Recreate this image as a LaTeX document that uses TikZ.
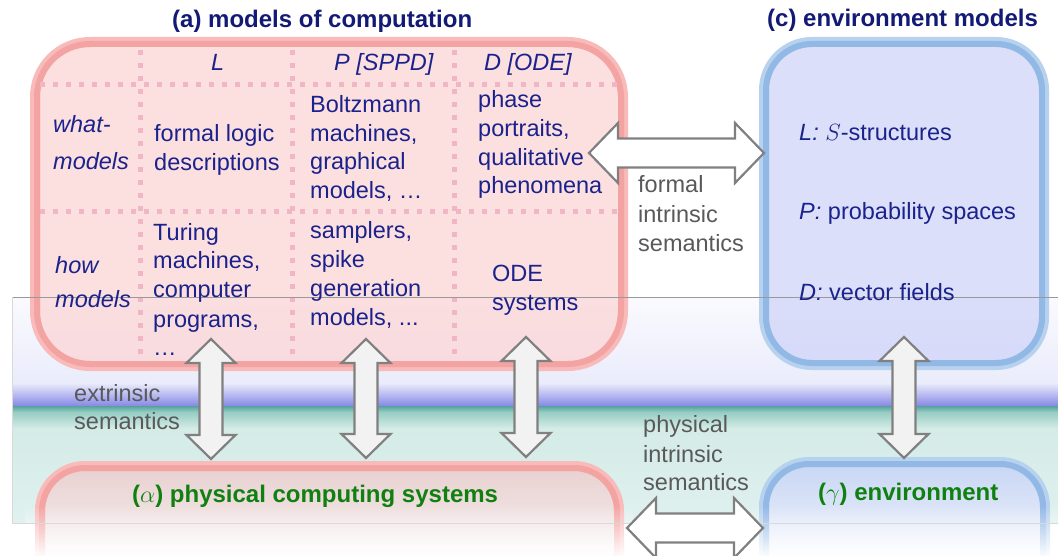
\RequirePackage{fix-cm}
\documentclass[tikz,border=0pt]{standalone}
\usepackage{fontspec}
\setmainfont{Liberation Sans}
\usetikzlibrary{fadings}
\definecolor{navy}{RGB}{26,34,140}
\definecolor{titlenavy}{RGB}{18,26,118}
\definecolor{greytxt}{RGB}{89,89,89}
\definecolor{greentxt}{RGB}{16,128,16}
\definecolor{pinkfill}{RGB}{252,212,212}
\definecolor{pinkedgeA}{RGB}{249,186,186}
\definecolor{pinkedgeB}{RGB}{244,163,163}
\definecolor{dotpink}{RGB}{240,182,198}
\definecolor{bluefill}{RGB}{206,211,248}
\definecolor{blueedgeA}{RGB}{182,210,238}
\definecolor{blueedgeB}{RGB}{146,184,230}
\definecolor{arrowline}{RGB}{128,128,128}
\definecolor{arrowfillV}{RGB}{242,242,242}
\tikzfading[name=fadedown, top color=transparent!100, bottom color=transparent!0]
\newcommand\vblockarrow[3]{% cx, ytop, ybottom
  \draw[blk, fill=arrowfillV] (#1,#2) -- (#1+24.5,#2+24) -- (#1+11.5,#2+24) -- (#1+11.5,#3-24) -- (#1+24.5,#3-24) -- (#1,#3) -- (#1-24.5,#3-24) -- (#1-11.5,#3-24) -- (#1-11.5,#2+24) -- (#1-24.5,#2+24) -- cycle;}
\newcommand\hblockarrow[3]{% xleft, xright, cy
  \draw[blk, fill=white] (#1,#3) -- (#1+29,#3-30) -- (#1+29,#3-14.5) -- (#2-29,#3-14.5) -- (#2-29,#3-30) -- (#2,#3) -- (#2-29,#3+30) -- (#2-29,#3+14.5) -- (#1+29,#3+14.5) -- (#1+29,#3+30) -- cycle;}
\begin{document}
\begin{tikzpicture}[x=1pt,y=-1pt,
  txt/.style={font=\fontsize{23.5}{28}\selectfont, text=navy, inner sep=0, anchor=base west},
  itx/.style={txt, font=\fontsize{23.5}{28}\selectfont\itshape},
  gtx/.style={txt, text=greytxt},
  ttl/.style={font=\fontsize{24}{28}\selectfont\bfseries, text=titlenavy, inner sep=0, anchor=base west},
  gttl/.style={ttl, text=greentxt},
  grid/.style={dotpink, line width=5, dash pattern=on 5 off 8},
  blk/.style={draw=arrowline, line width=2.2, line join=miter}]
\useasboundingbox (0,0) rectangle (1058,556);
\clip (0,0) rectangle (1058,556);
\fill[white] (0,0) rectangle (1058,556);
% background band
\fill[top color={rgb,255:red,250;green,250;blue,254}, bottom color={rgb,255:red,234;green,236;blue,251}] (12,297) rectangle (1058,383);
\fill[top color={rgb,255:red,234;green,236;blue,251}, bottom color={rgb,255:red,132;green,134;blue,230}] (12,383) rectangle (1058,406.5);
\fill[top color={rgb,255:red,92;green,165;blue,160}, bottom color={rgb,255:red,150;green,205;blue,195}] (12,406.5) rectangle (1058,412);
\fill[top color={rgb,255:red,150;green,205;blue,195}, bottom color={rgb,255:red,212;green,235;blue,230}] (12,412) rectangle (1058,428);
\fill[top color={rgb,255:red,212;green,235;blue,230}, bottom color={rgb,255:red,224;green,241;blue,239}] (12,428) rectangle (1058,523);
% top boxes
\fill[pinkfill, fill opacity=0.72, rounded corners=55] (35,42) rectangle (623,366);
\fill[bluefill, fill opacity=0.72, rounded corners=48] (764,42) rectangle (1044,365);
\draw[pinkedgeA, line width=10, rounded corners=55] (35,42) rectangle (623,366);
\draw[pinkedgeB, line width=6, rounded corners=53] (37,44) rectangle (621,364);
\draw[blueedgeA, line width=10, rounded corners=48] (764,42) rectangle (1044,365);
\draw[blueedgeB, line width=6, rounded corners=46] (766,44) rectangle (1042,363);
% grid
\draw[grid] (140,50) -- (140,362);
\draw[grid] (292,50) -- (292,362);
\draw[grid] (454,50) -- (454,362);
\draw[grid] (40,85) -- (619,85);
\draw[grid] (40,212) -- (619,212);
% bottom boxes
\fill[top color={rgb,255:red,232;green,208;blue,208}, bottom color=white, rounded corners=45] (40,466) rectangle (619,600);
\draw[pinkedgeA, line width=10, rounded corners=45] (40,466) rectangle (619,600);
\draw[pinkedgeB, line width=6, rounded corners=43] (42,468) rectangle (617,598);
\fill[top color={rgb,255:red,200;green,214;blue,244}, bottom color=white, rounded corners=45] (764,462) rectangle (1045,600);
\draw[blueedgeA, line width=10, rounded corners=45] (764,462) rectangle (1045,600);
\draw[blueedgeB, line width=6, rounded corners=43] (766,464) rectangle (1043,598);
\fill[white, path fading=fadedown] (25,505) rectangle (634,558);
\fill[white, path fading=fadedown] (752,505) rectangle (1058,558);
% band edges
\draw[black!40, line width=1] (12,297) -- (1058,297);
\draw[black!15, line width=1] (12,297) -- (12,523) -- (1058,523);
% arrows
\vblockarrow{211}{339}{459}
\vblockarrow{366}{339}{458}
\vblockarrow{526}{337}{457}
\vblockarrow{904}{337}{458}
\hblockarrow{589}{764}{153}
\hblockarrow{627}{763}{528}
% titles
\node[ttl] (ta) at (172,28) {(a) models of computation};
\node[ttl] (tc) at (767,27) {(c) environment models};
% headers
\node[itx] (hL) at (211,71) {L};
\node[itx] (hP) at (334,71) {P [SPPD]};
\node[itx] (hD) at (484,71) {D [ODE]};
% row labels
\node[itx] (r1a) at (53,133) {what-};
\node[itx] (r1b) at (53,170) {models};
\node[itx] (r2a) at (55,273) {how};
\node[itx] (r2b) at (55,308) {models};
% L column
\node[txt] (l1a) at (154,142) {formal logic};
\node[txt] (l1b) at (154,171) {descriptions};
\node[txt] (l2a) at (153,241) {Turing};
\node[txt] (l2b) at (153,269) {machines,};
\node[txt] (l2c) at (153,298) {computer};
\node[txt] (l2d) at (153,327) {programs,};
\node[txt] (l2e) at (153,355) {…};
% P column
\node[txt] (p1a) at (310,113) {Boltzmann};
\node[txt] (p1b) at (310,142) {machines,};
\node[txt] (p1c) at (310,170) {graphical};
\node[txt] (p1d) at (310,199) {models, …};
\node[txt] (p2a) at (310,239) {samplers,};
\node[txt] (p2b) at (310,268) {spike};
\node[txt] (p2c) at (310,297) {generation};
\node[txt] (p2d) at (310,325) {models, ...};
% D column
\node[txt] (d1a) at (478,108) {phase};
\node[txt] (d1b) at (478,137) {portraits,};
\node[txt] (d1c) at (478,166) {qualitative};
\node[txt] (d1d) at (478,194) {phenomena};
\node[txt] (d2a) at (492,282) {ODE};
\node[txt] (d2b) at (492,310) {systems};
% environment models
\node[txt] (e1) at (799,141) {\textit{L:} $S$-structures};
\node[txt] (e2) at (799,220) {\textit{P:} probability spaces};
\node[txt] (e3) at (799,300) {\textit{D:} vector fields};
% grey labels
\node[gtx] (f1) at (638,193) {formal};
\node[gtx] (f2) at (638,223) {intrinsic};
\node[gtx] (f3) at (638,252) {semantics};
\node[gtx] (x1) at (74,401) {extrinsic};
\node[gtx] (x2) at (74,429) {semantics};
\node[gtx] (y1) at (643,432) {physical};
\node[gtx] (y2) at (643,462) {intrinsic};
\node[gtx] (y3) at (643,490) {semantics};
% bottom titles
\node[gttl] (ba) at (132,502) {($\alpha$) physical computing systems};
\node[gttl] (bg) at (818,500) {($\gamma$) environment};
\end{tikzpicture}
\end{document}
